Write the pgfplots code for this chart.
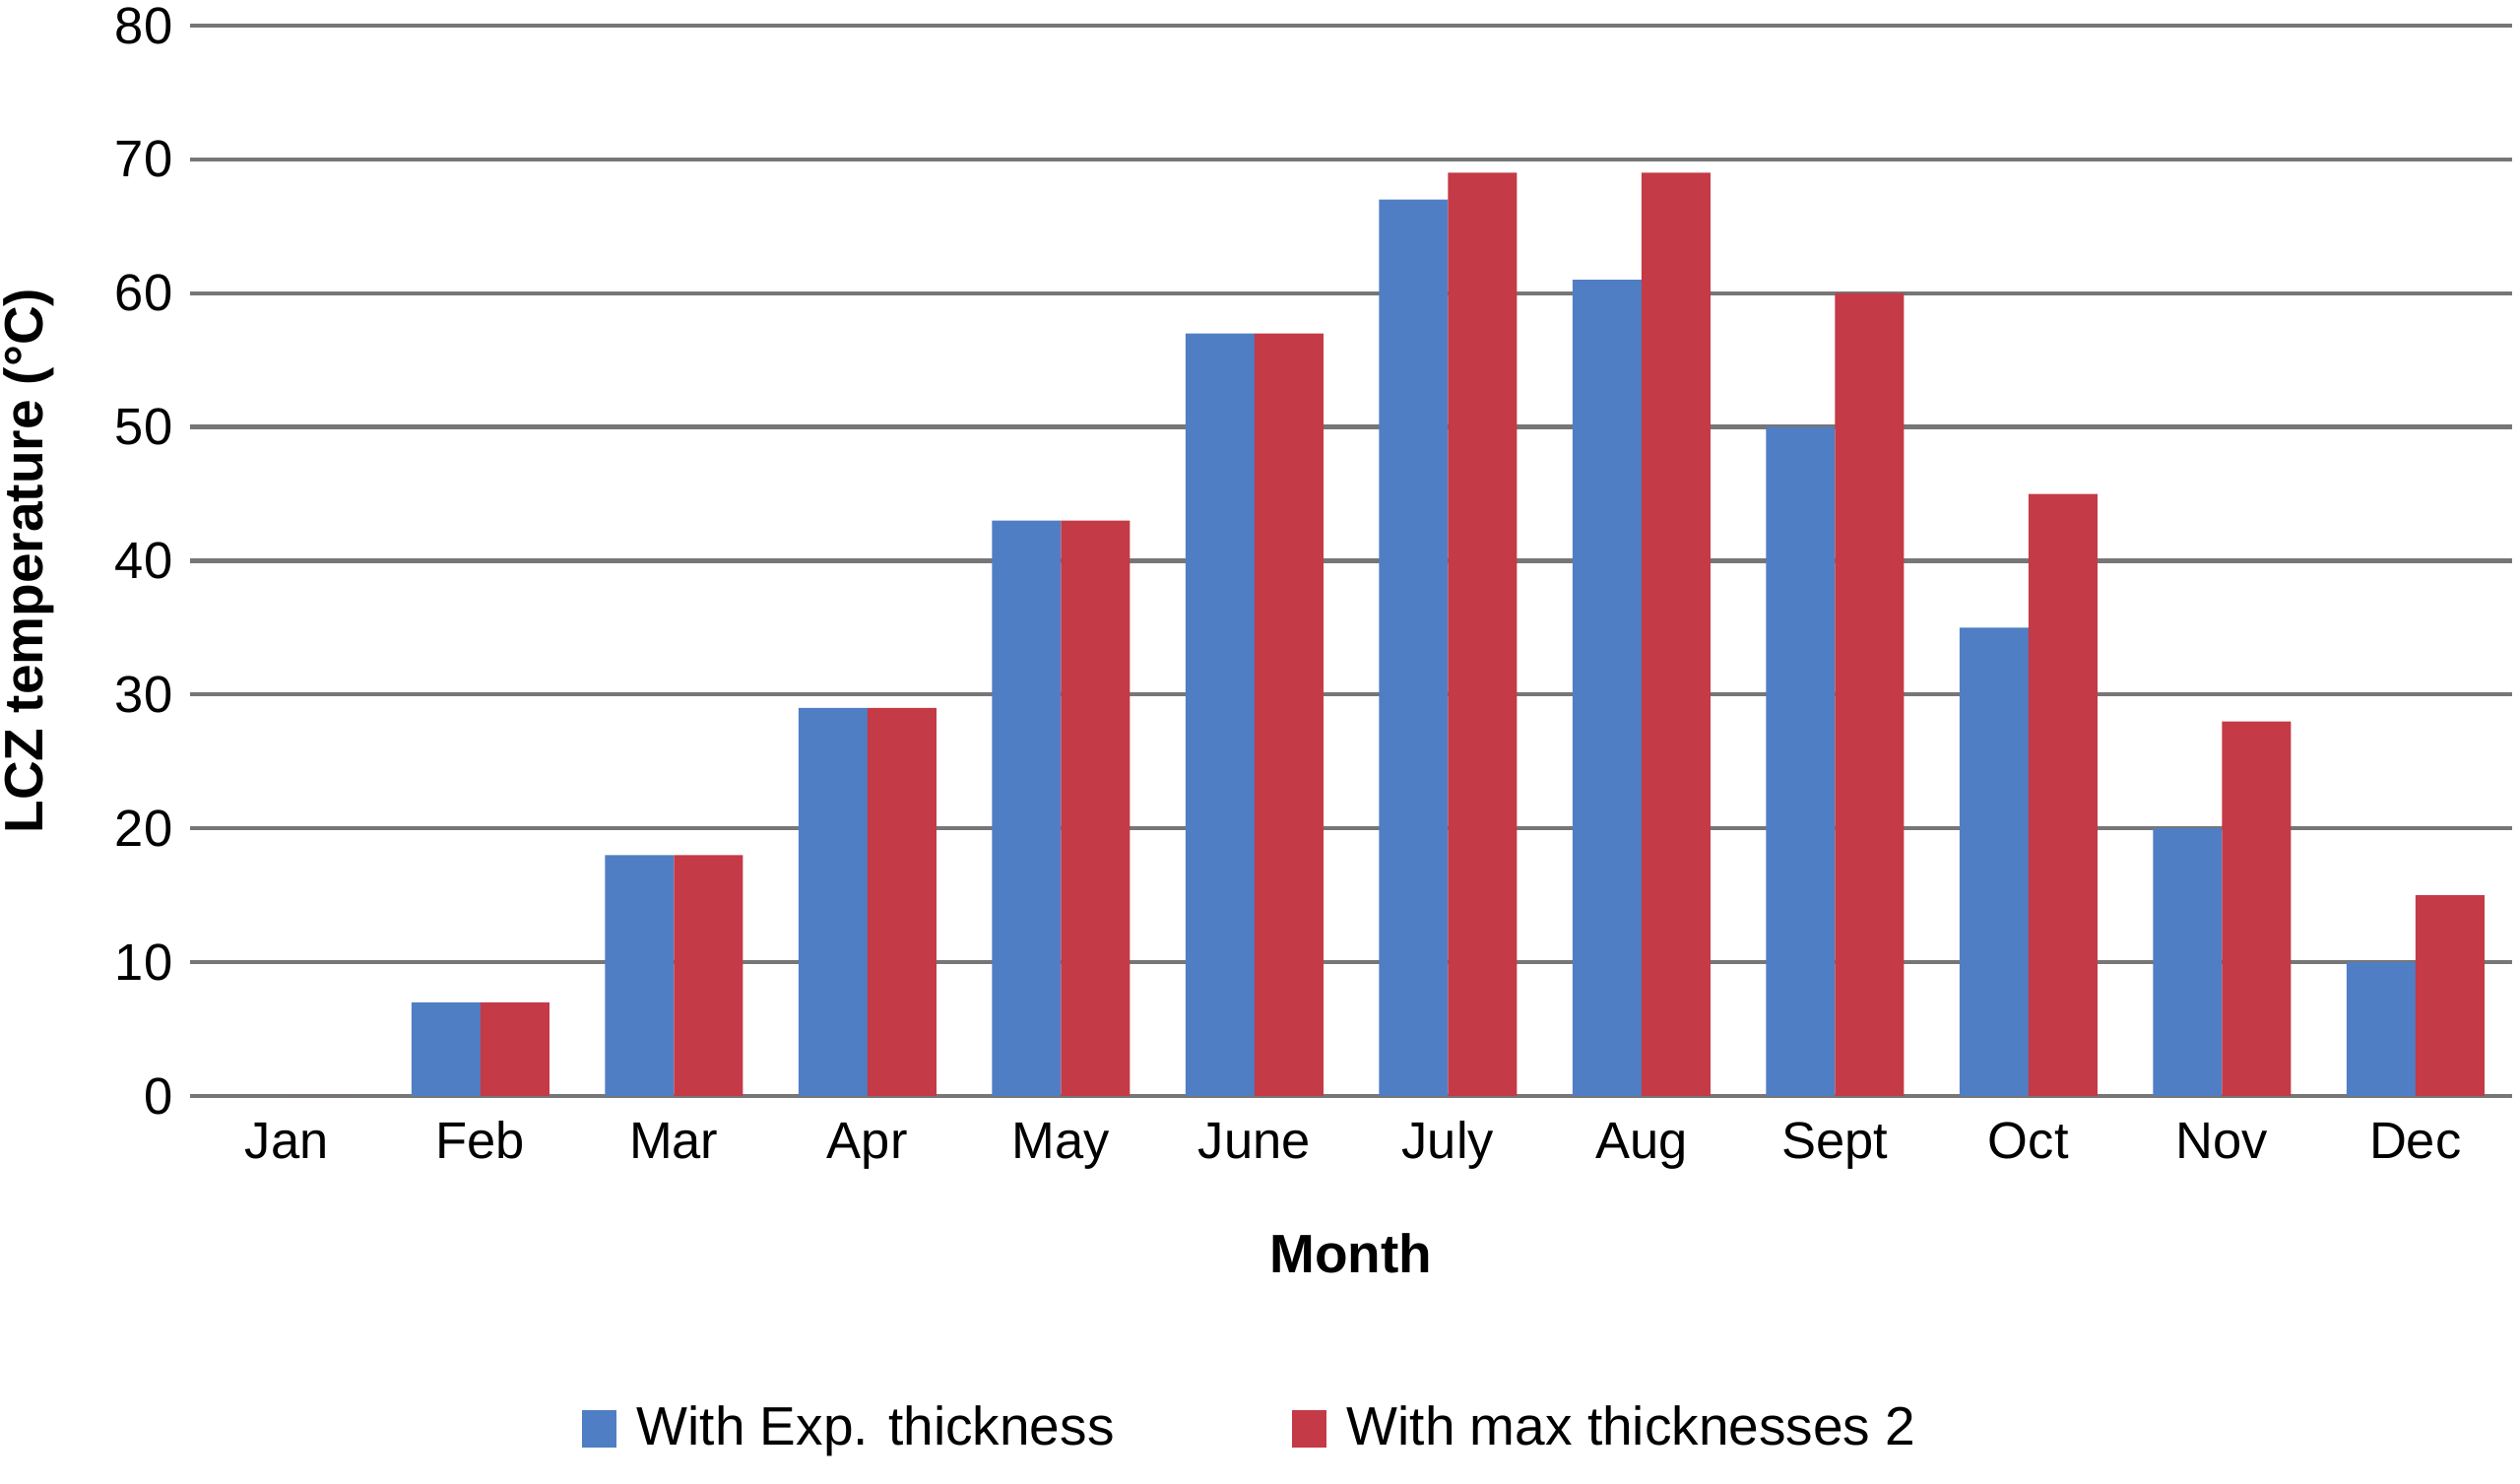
\documentclass[border=0pt]{standalone}
\usepackage{pgfplots}
\pgfplotsset{compat=1.18}
\usepackage{fontspec}
\setmainfont{Liberation Sans}
\definecolor{barblue}{RGB}{80,126,196}
\definecolor{barred}{RGB}{196,58,70}
\definecolor{gridgray}{RGB}{118,118,118}
\begin{document}
\begin{tikzpicture}
\path[use as bounding box] (0pt,0pt) rectangle (511.8pt,301.4pt);
\begin{axis}[
  at={(38.6pt,78.8pt)}, anchor=south west,
  scale only axis,
  width=471.6pt, height=217.4pt,
  ybar=0pt, bar width=14pt,
  xmin=-0.5, xmax=11.5,
  ymin=0, ymax=80,
  xtick={0,...,11},
  xticklabels={Jan,Feb,Mar,Apr,May,June,July,Aug,Sept,Oct,Nov,Dec},
  ytick={0,10,...,80},
  major tick length=0pt,
  axis line style={draw=none},
  ymajorgrids,
  grid style={line width=0.85pt, color=gridgray},
  /pgf/number format/assume math mode=true,
  tick label style={font=\fontsize{10.5}{12}\selectfont},
  x tick label style={text height=7.6pt, text depth=2.2pt, yshift=-1.5pt},
  xlabel={Month},
  ylabel={LCZ temperature (°C)},
  label style={font=\fontsize{11}{13}\selectfont\bfseries},
  x label style={at={(rel axis cs:0.5,0)}, anchor=center, yshift=-32pt},
  y label style={at={(axis description cs:-0.0696,0.5)}, anchor=center},
  legend style={at={(rel axis cs:0.458,0)}, anchor=center, yshift=-67.6pt,
    draw=none, legend columns=2, font=\fontsize{11}{13}\selectfont,
    /tikz/every odd column/.append style={column sep=2.2pt},
    /tikz/every even column/.append style={column sep=34pt}},
  legend image code/.code={\fill[#1] (0pt,-3.8pt) rectangle (7pt,3.8pt);},
]
\addplot[fill=barblue, draw=none] coordinates {(0,0) (1,7) (2,18) (3,29) (4,43) (5,57) (6,67) (7,61) (8,50) (9,35) (10,20) (11,10)};
\addplot[fill=barred, draw=none] coordinates {(0,0) (1,7) (2,18) (3,29) (4,43) (5,57) (6,69) (7,69) (8,60) (9,45) (10,28) (11,15)};
\legend{With Exp. thickness, With max thicknesses 2}
\end{axis}
\end{tikzpicture}
\end{document}
